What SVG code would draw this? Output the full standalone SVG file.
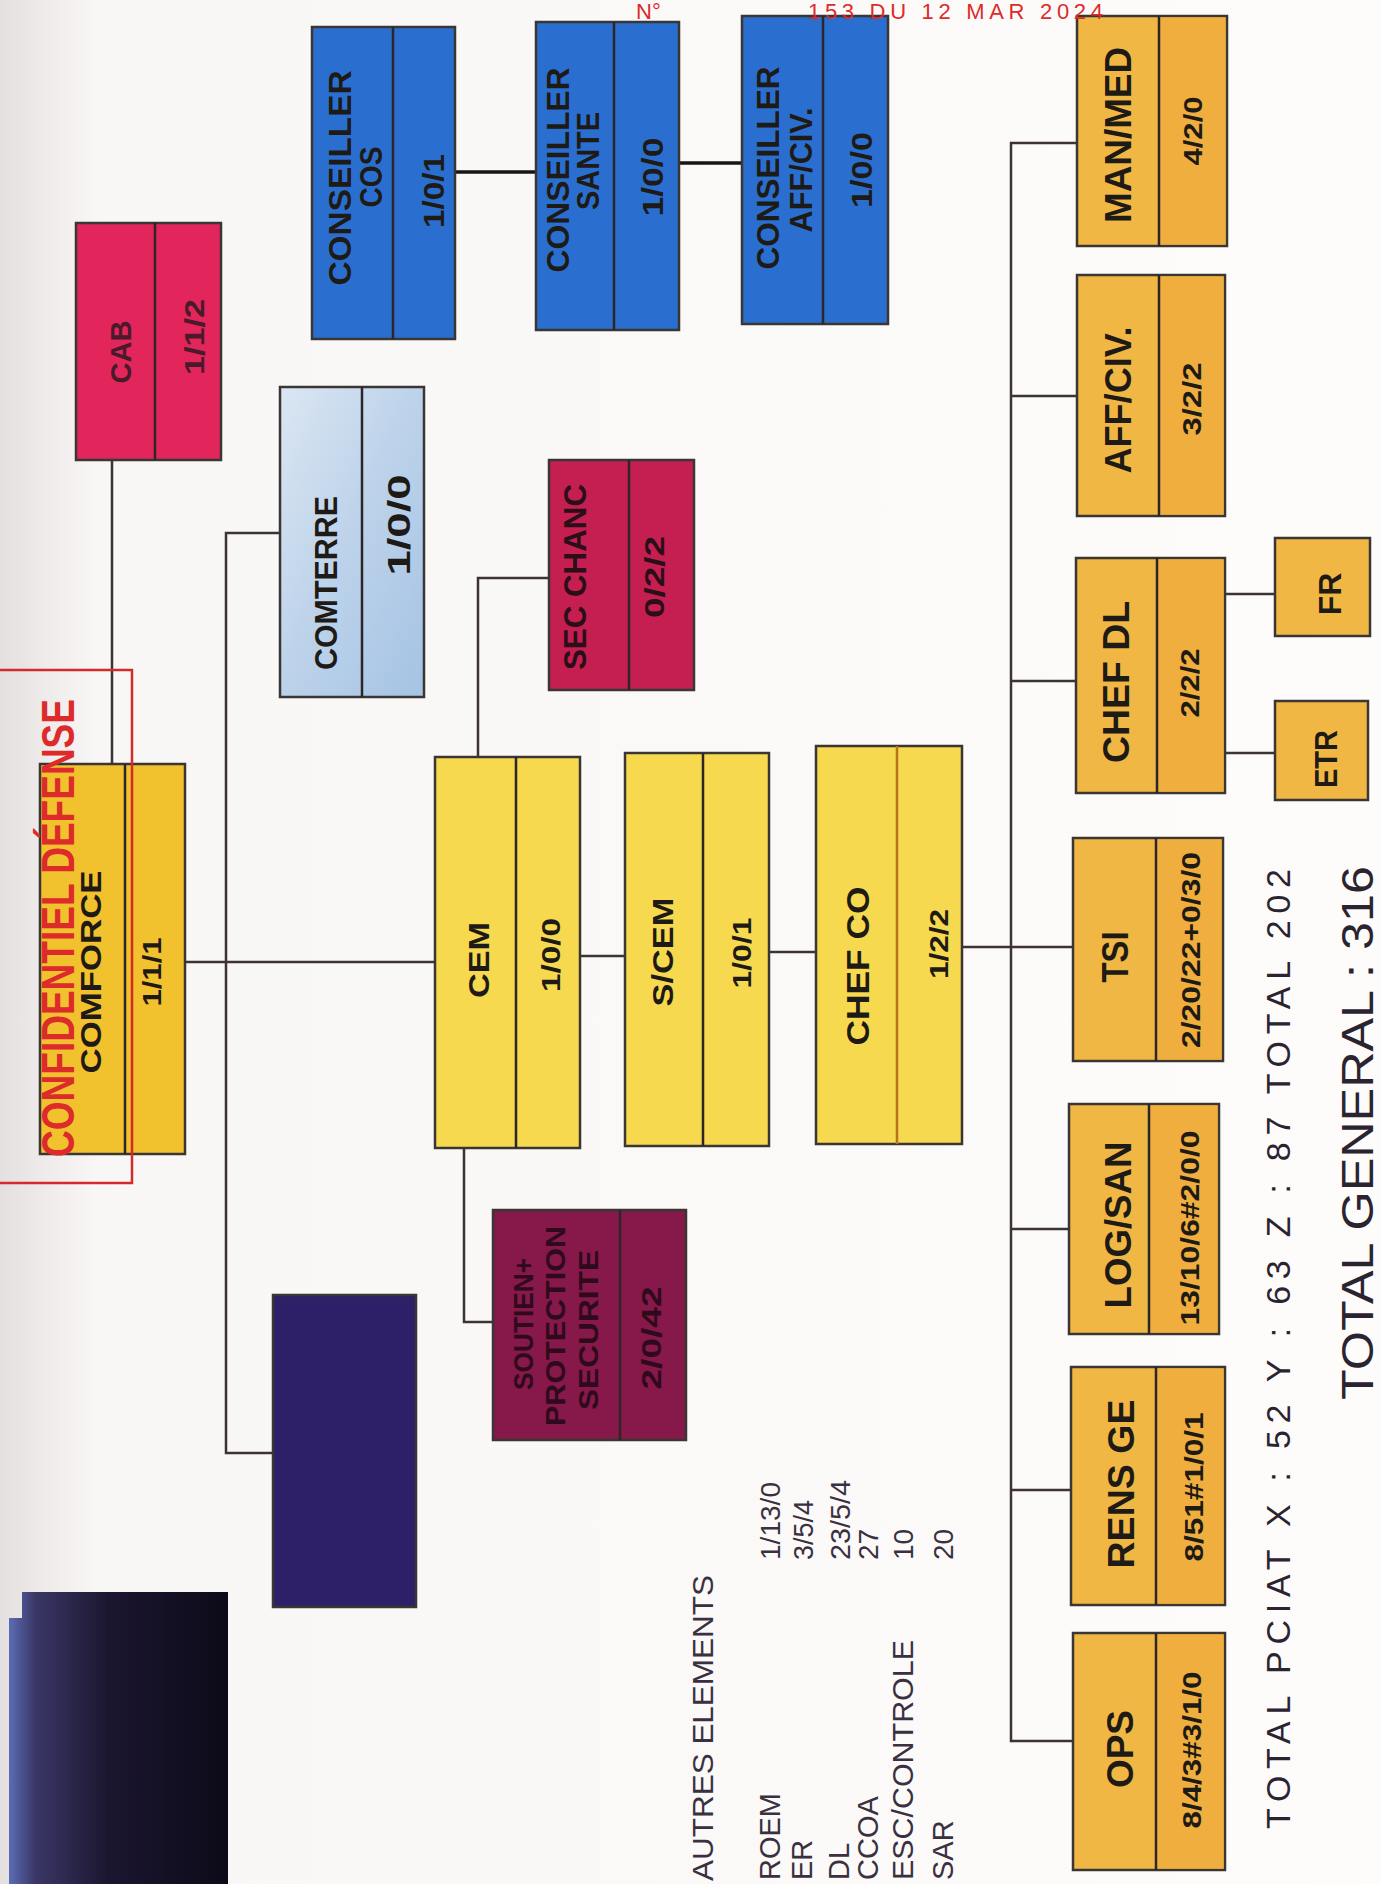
<svg xmlns="http://www.w3.org/2000/svg" width="1381" height="1884" viewBox="0 0 1381 1884">
<defs>
<linearGradient id="paper" x1="0" y1="0" x2="1" y2="0">
<stop offset="0" stop-color="#e4e0df"/>
<stop offset="0.07" stop-color="#f9f7f6"/>
<stop offset="1" stop-color="#fdfcfa"/>
</linearGradient>
<linearGradient id="blackbox" x1="0" y1="0" x2="1" y2="0">
<stop offset="0" stop-color="#5b6cb4"/>
<stop offset="0.12" stop-color="#3a3766"/>
<stop offset="0.45" stop-color="#1b1630"/>
<stop offset="1" stop-color="#0d0a18"/>
</linearGradient>
<linearGradient id="comterre" x1="0" y1="0" x2="1" y2="1">
<stop offset="0" stop-color="#dbe6f2"/>
<stop offset="0.5" stop-color="#bcd2ea"/>
<stop offset="1" stop-color="#a5c3e4"/>
</linearGradient>
<style>
.box{stroke:#3a3634;stroke-width:2.5}
.div{stroke:#2c2628;stroke-width:2.5}
.gold{fill:#f2c12e}
.yel{fill:#f6d94e}
.org{fill:#f1b744}
.orgn{fill:#efae3e}
.cab{fill:#e2265c}
.sec{fill:#c51f51}
.sout{fill:#86184a}
.navy{fill:#2d2068}
.blue{fill:#2a6fcf}
.t{font-family:"Liberation Sans",Arial,sans-serif;font-weight:bold;fill:#1e1a16;text-anchor:middle}
.n36{font-size:36px}
.n32{font-size:32px}
.n30{font-size:30px}
.n28{font-size:28px}
.n26{font-size:26px}
.lst{font-family:"Liberation Sans",Arial,sans-serif;fill:#3a3040;font-size:29px}
.tot{font-family:"Liberation Sans",Arial,sans-serif;fill:#2a2430}
.red{font-family:"Liberation Sans",Arial,sans-serif;fill:#dd2a2a}
.con{fill:none;stroke:#3d3336;stroke-width:2.5}
.conb{fill:none;stroke:#161616;stroke-width:3.5}
</style>
</defs>
<rect x="0" y="0" width="1381" height="1884" fill="url(#paper)"/>

<g id="connectors">
<path class="con" d="M112,460 V764"/>
<path class="con" d="M185,962 H435"/>
<path class="con" d="M280,533 H226 V1453 H273"/>
<path class="con" d="M549,578 H478 V757"/>
<path class="con" d="M464,1148 V1322 H493"/>
<path class="con" d="M580,956 H625"/>
<path class="con" d="M769,952 H816"/>
<path class="con" d="M962,947 H1073"/>
<path class="con" d="M1077,143 H1011 V1741 H1073"/>
<path class="con" d="M1011,396 H1077"/>
<path class="con" d="M1011,681 H1076"/>
<path class="con" d="M1011,1229 H1069"/>
<path class="con" d="M1011,1490 H1071"/>
<path class="con" d="M1225,594 H1275"/>
<path class="con" d="M1225,753 H1275"/>
<path class="conb" d="M455,172 H536"/>
<path class="conb" d="M679,163 H742"/>
</g>

<g id="cab">
<rect class="box cab" x="76" y="223" width="145" height="237"/>
<line class="div" x1="155" y1="223" x2="155" y2="460"/>
<text class="t n30" style="fill:#4a1a2a" transform="translate(120,352) rotate(-90)" dy=".35em" textLength="63" lengthAdjust="spacingAndGlyphs">CAB</text>
<text class="t n28" style="fill:#4a1a2a" transform="translate(194,337) rotate(-90)" dy=".35em" textLength="76" lengthAdjust="spacingAndGlyphs">1/1/2</text>
</g>

<g id="comforce">
<rect class="box gold" x="40" y="764" width="145" height="390"/>
<line class="div" x1="125" y1="764" x2="125" y2="1154"/>
<text class="t n30" transform="translate(90,972) rotate(-90)" dy=".35em" textLength="203" lengthAdjust="spacingAndGlyphs">COMFORCE</text>
<text class="t n26" transform="translate(152,972) rotate(-90)" dy=".35em" textLength="69" lengthAdjust="spacingAndGlyphs">1/1/1</text>
</g>

<g id="conseiller-cos">
<rect class="box blue" x="312" y="27" width="143" height="312"/>
<line class="div" x1="393" y1="27" x2="393" y2="339"/>
<text class="t n32" transform="translate(340,178) rotate(-90)" dy=".35em" textLength="215" lengthAdjust="spacingAndGlyphs">CONSEILLER</text>
<text class="t n32" transform="translate(371,177) rotate(-90)" dy=".35em" textLength="61" lengthAdjust="spacingAndGlyphs">COS</text>
<text class="t n30" transform="translate(433,191) rotate(-90)" dy=".35em" textLength="74" lengthAdjust="spacingAndGlyphs">1/0/1</text>
</g>

<g id="conseiller-sante">
<rect class="box blue" x="536" y="22" width="143" height="308"/>
<line class="div" x1="614" y1="22" x2="614" y2="330"/>
<text class="t n32" transform="translate(558,170) rotate(-90)" dy=".35em" textLength="205" lengthAdjust="spacingAndGlyphs">CONSEILLER</text>
<text class="t n32" transform="translate(588,161) rotate(-90)" dy=".35em" textLength="98" lengthAdjust="spacingAndGlyphs">SANTE</text>
<text class="t n30" transform="translate(652,177) rotate(-90)" dy=".35em" textLength="79" lengthAdjust="spacingAndGlyphs">1/0/0</text>
</g>

<g id="conseiller-affciv">
<rect class="box blue" x="742" y="16" width="146" height="308"/>
<line class="div" x1="823" y1="16" x2="823" y2="324"/>
<text class="t n32" transform="translate(768,168) rotate(-90)" dy=".35em" textLength="203" lengthAdjust="spacingAndGlyphs">CONSEILLER</text>
<text class="t n32" transform="translate(801,170) rotate(-90)" dy=".35em" textLength="125" lengthAdjust="spacingAndGlyphs">AFF/CIV.</text>
<text class="t n30" transform="translate(861,170) rotate(-90)" dy=".35em" textLength="76" lengthAdjust="spacingAndGlyphs">1/0/0</text>
</g>

<g id="comterre">
<rect class="box" fill="url(#comterre)" x="280" y="387" width="144" height="310"/>
<line class="div" x1="362" y1="387" x2="362" y2="697"/>
<text class="t n32" transform="translate(326,583) rotate(-90)" dy=".35em" textLength="174" lengthAdjust="spacingAndGlyphs">COMTERRE</text>
<text class="t n32" transform="translate(399,525) rotate(-90)" dy=".35em" textLength="101" lengthAdjust="spacingAndGlyphs">1/0/0</text>
</g>

<g id="sec-chanc">
<rect class="box sec" x="549" y="460" width="145" height="230"/>
<line class="div" x1="629" y1="460" x2="629" y2="690"/>
<text class="t n32" style="fill:#2a0e18" transform="translate(575,577) rotate(-90)" dy=".35em" textLength="186" lengthAdjust="spacingAndGlyphs">SEC CHANC</text>
<text class="t n28" style="fill:#2a0e18" transform="translate(654,577) rotate(-90)" dy=".35em" textLength="82" lengthAdjust="spacingAndGlyphs">0/2/2</text>
</g>

<g id="cem">
<rect class="box yel" x="435" y="757" width="145" height="391"/>
<line class="div" x1="516" y1="757" x2="516" y2="1148"/>
<text class="t n30" transform="translate(478,960) rotate(-90)" dy=".35em" textLength="76" lengthAdjust="spacingAndGlyphs">CEM</text>
<text class="t n26" transform="translate(551,955) rotate(-90)" dy=".35em" textLength="74" lengthAdjust="spacingAndGlyphs">1/0/0</text>
</g>

<g id="s-cem">
<rect class="box yel" x="625" y="753" width="144" height="393"/>
<line class="div" x1="703" y1="753" x2="703" y2="1146"/>
<text class="t n30" transform="translate(662,952) rotate(-90)" dy=".35em" textLength="109" lengthAdjust="spacingAndGlyphs">S/CEM</text>
<text class="t n26" transform="translate(742,953) rotate(-90)" dy=".35em" textLength="71" lengthAdjust="spacingAndGlyphs">1/0/1</text>
</g>

<g id="chef-co">
<rect class="box yel" x="816" y="746" width="146" height="398"/>
<line class="div" x1="897" y1="746" x2="897" y2="1144" style="stroke:#b8741c"/>
<text class="t n32" transform="translate(858,966) rotate(-90)" dy=".35em" textLength="159" lengthAdjust="spacingAndGlyphs">CHEF CO</text>
<text class="t n26" transform="translate(939,944) rotate(-90)" dy=".35em" textLength="70" lengthAdjust="spacingAndGlyphs">1/2/2</text>
</g>

<g id="soutien">
<rect class="box sout" x="493" y="1210" width="193" height="230"/>
<line class="div" x1="620" y1="1210" x2="620" y2="1440"/>
<text class="t n28" style="fill:#2e0a1c" transform="translate(523,1324) rotate(-90)" dy=".35em" textLength="132" lengthAdjust="spacingAndGlyphs">SOUTIEN+</text>
<text class="t n28" style="fill:#2e0a1c" transform="translate(555,1326) rotate(-90)" dy=".35em" textLength="200" lengthAdjust="spacingAndGlyphs">PROTECTION</text>
<text class="t n28" style="fill:#2e0a1c" transform="translate(588,1330) rotate(-90)" dy=".35em" textLength="160" lengthAdjust="spacingAndGlyphs">SECURITE</text>
<text class="t n28" style="fill:#2e0a1c" transform="translate(651,1338) rotate(-90)" dy=".35em" textLength="103" lengthAdjust="spacingAndGlyphs">2/0/42</text>
</g>

<g id="navy-box">
<rect class="box navy" x="273" y="1295" width="143" height="312"/>
</g>

<g id="black-box">
<path d="M9,1618 H22 V1592 H228 V1884 H9 Z" fill="url(#blackbox)"/>
</g>

<g id="man-med">
<rect class="box org" x="1077" y="16" width="150" height="230"/>
<rect class="orgn" x="1159" y="17.5" width="66.5" height="227"/>
<line class="div" x1="1159" y1="16" x2="1159" y2="246"/>
<text class="t n36" transform="translate(1118,135) rotate(-90)" dy=".35em" textLength="176" lengthAdjust="spacingAndGlyphs">MAN/MED</text>
<text class="t n26" transform="translate(1193,131) rotate(-90)" dy=".35em" textLength="69" lengthAdjust="spacingAndGlyphs">4/2/0</text>
</g>

<g id="aff-civ">
<rect class="box org" x="1077" y="275" width="148" height="241"/>
<rect class="orgn" x="1159" y="276.5" width="64.5" height="238"/>
<line class="div" x1="1159" y1="275" x2="1159" y2="516"/>
<text class="t n36" transform="translate(1118,400) rotate(-90)" dy=".35em" textLength="147" lengthAdjust="spacingAndGlyphs">AFF/CIV.</text>
<text class="t n26" transform="translate(1192,399) rotate(-90)" dy=".35em" textLength="73" lengthAdjust="spacingAndGlyphs">3/2/2</text>
</g>

<g id="chef-dl">
<rect class="box org" x="1076" y="558" width="149" height="235"/>
<rect class="orgn" x="1157" y="559.5" width="66.5" height="232"/>
<line class="div" x1="1157" y1="558" x2="1157" y2="793"/>
<text class="t n36" transform="translate(1116,682) rotate(-90)" dy=".35em" textLength="162" lengthAdjust="spacingAndGlyphs">CHEF DL</text>
<text class="t n26" transform="translate(1190,683) rotate(-90)" dy=".35em" textLength="69" lengthAdjust="spacingAndGlyphs">2/2/2</text>
</g>

<g id="fr">
<rect class="box org" x="1275" y="538" width="95" height="98"/>
<text class="t n32" transform="translate(1330,594) rotate(-90)" dy=".35em">FR</text>
</g>

<g id="etr">
<rect class="box org" x="1275" y="701" width="93" height="99"/>
<text class="t n32" transform="translate(1326,759) rotate(-90)" dy=".35em" textLength="58" lengthAdjust="spacingAndGlyphs">ETR</text>
</g>

<g id="tsi">
<rect class="box org" x="1073" y="838" width="150" height="223"/>
<rect class="orgn" x="1156" y="839.5" width="65.5" height="220"/>
<line class="div" x1="1156" y1="838" x2="1156" y2="1061"/>
<text class="t n36" transform="translate(1115,957) rotate(-90)" dy=".35em" textLength="51" lengthAdjust="spacingAndGlyphs">TSI</text>
<text class="t n26" transform="translate(1191,950) rotate(-90)" dy=".35em" textLength="196" lengthAdjust="spacingAndGlyphs">2/20/22+0/3/0</text>
</g>

<g id="log-san">
<rect class="box org" x="1069" y="1104" width="150" height="230"/>
<rect class="orgn" x="1149" y="1105.5" width="68.5" height="227"/>
<line class="div" x1="1149" y1="1104" x2="1149" y2="1334"/>
<text class="t n36" transform="translate(1118,1225) rotate(-90)" dy=".35em" textLength="167" lengthAdjust="spacingAndGlyphs">LOG/SAN</text>
<text class="t n26" transform="translate(1190,1228) rotate(-90)" dy=".35em" textLength="195" lengthAdjust="spacingAndGlyphs">13/10/6#2/0/0</text>
</g>

<g id="rens-ge">
<rect class="box org" x="1071" y="1367" width="154" height="238"/>
<rect class="orgn" x="1156" y="1368.5" width="67.5" height="235"/>
<line class="div" x1="1156" y1="1367" x2="1156" y2="1605"/>
<text class="t n36" transform="translate(1121,1484) rotate(-90)" dy=".35em" textLength="169" lengthAdjust="spacingAndGlyphs">RENS GE</text>
<text class="t n26" transform="translate(1194,1487) rotate(-90)" dy=".35em" textLength="149" lengthAdjust="spacingAndGlyphs">8/51#1/0/1</text>
</g>

<g id="ops">
<rect class="box org" x="1073" y="1633" width="152" height="237"/>
<rect class="orgn" x="1156" y="1634.5" width="67.5" height="234"/>
<line class="div" x1="1156" y1="1633" x2="1156" y2="1870"/>
<text class="t n36" transform="translate(1120,1749) rotate(-90)" dy=".35em" textLength="78" lengthAdjust="spacingAndGlyphs">OPS</text>
<text class="t n26" transform="translate(1192,1750) rotate(-90)" dy=".35em" textLength="157" lengthAdjust="spacingAndGlyphs">8/4/3#3/1/0</text>
</g>

<g id="autres-elements">
<text class="lst" transform="translate(703,1881) rotate(-90)" dy=".35em" textLength="306" lengthAdjust="spacingAndGlyphs">AUTRES ELEMENTS</text>
<text class="lst" transform="translate(770,1880) rotate(-90)" dy=".35em">ROEM</text>
<text class="lst" transform="translate(802,1880) rotate(-90)" dy=".35em">ER</text>
<text class="lst" transform="translate(839,1880) rotate(-90)" dy=".35em">DL</text>
<text class="lst" transform="translate(868,1880) rotate(-90)" dy=".35em">CCOA</text>
<text class="lst" transform="translate(903,1880) rotate(-90)" dy=".35em" textLength="240" lengthAdjust="spacingAndGlyphs">ESC/CONTROLE</text>
<text class="lst" transform="translate(943,1880) rotate(-90)" dy=".35em">SAR</text>
<text class="lst" style="font-size:28px" transform="translate(770,1560) rotate(-90)" dy=".35em" textLength="78" lengthAdjust="spacingAndGlyphs">1/13/0</text>
<text class="lst" style="font-size:28px" transform="translate(803,1560) rotate(-90)" dy=".35em" textLength="60" lengthAdjust="spacingAndGlyphs">3/5/4</text>
<text class="lst" style="font-size:28px" transform="translate(840,1560) rotate(-90)" dy=".35em" textLength="80" lengthAdjust="spacingAndGlyphs">23/5/4</text>
<text class="lst" style="font-size:28px" transform="translate(868,1560) rotate(-90)" dy=".35em">27</text>
<text class="lst" style="font-size:28px" transform="translate(903,1560) rotate(-90)" dy=".35em">10</text>
<text class="lst" style="font-size:28px" transform="translate(943,1560) rotate(-90)" dy=".35em">20</text>
</g>

<g id="totals">
<text class="tot" style="font-size:34px" transform="translate(1278,1829) rotate(-90)" dy=".35em" textLength="960" lengthAdjust="spacing">TOTAL PCIAT X : 52 Y : 63 Z : 87 TOTAL 202</text>
<text class="tot" style="font-size:44px" transform="translate(1358,1400) rotate(-90)" dy=".35em" textLength="534" lengthAdjust="spacingAndGlyphs">TOTAL GENERAL : 316</text>
</g>

<g id="stamps">
<path d="M0,670 H132 V1183 H0" fill="none" stroke="#d42a2a" stroke-width="2.5"/>
<text class="red" style="font-size:46px;font-weight:bold" transform="translate(58,1157) rotate(-90)" dy=".35em" textLength="458" lengthAdjust="spacingAndGlyphs">CONFIDENTIEL DÉFENSE</text>
<text class="red" style="font-size:22px" x="636" y="19">N°</text>
<text class="red" style="font-size:22px" x="808" y="19" textLength="295" lengthAdjust="spacing">153 DU 12 MAR 2024</text>
</g>
</svg>
